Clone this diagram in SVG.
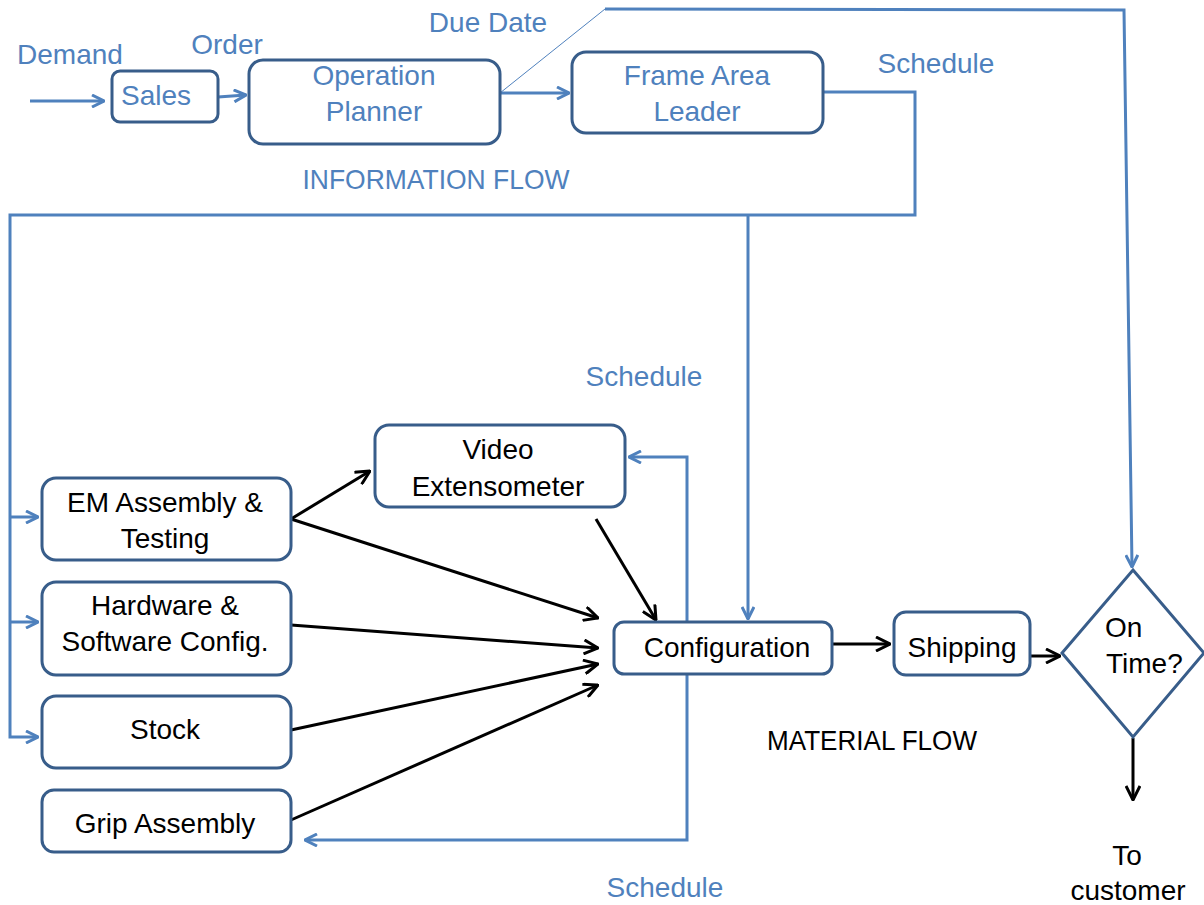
<svg xmlns="http://www.w3.org/2000/svg" width="1204" height="905" viewBox="0 0 1204 905">
  <style>
    .box { fill: #ffffff; stroke: #385D8A; stroke-width: 3; }
    .info { fill: none; stroke: #4F81BD; stroke-width: 3; }
    .thin { fill: none; stroke: #4F81BD; stroke-width: 1; }
    .mat { fill: none; stroke: #000000; stroke-width: 3; }
    text { font-family: "Liberation Sans", Arial, sans-serif; font-size: 28px; text-anchor: middle; }
    text.left { text-anchor: start; }
    .blue { fill: #4F81BD; }
    .dark { fill: #000000; }
  </style>
  <defs>
    <marker id="ab" viewBox="0 0 14 14" refX="13" refY="7" markerWidth="14" markerHeight="14" markerUnits="userSpaceOnUse" orient="auto">
      <path d="M1,1 L13,7 L1,13" fill="none" stroke="#4F81BD" stroke-width="3"/>
    </marker>
    <marker id="ak" viewBox="0 0 16 16" refX="15" refY="8" markerWidth="16" markerHeight="16" markerUnits="userSpaceOnUse" orient="auto">
      <path d="M1,1 L15,8 L1,15" fill="none" stroke="#000000" stroke-width="3"/>
    </marker>
  </defs>

  <!-- connectors -->
  <g id="connectors">
    <!-- information flow -->
    <line class="info" x1="30" y1="101" x2="104" y2="101" marker-end="url(#ab)"/>
    <line class="info" x1="218" y1="97" x2="246" y2="95" marker-end="url(#ab)"/>
    <line class="info" x1="500" y1="93" x2="569" y2="93" marker-end="url(#ab)"/>
    <line class="thin" x1="500" y1="93" x2="605" y2="9"/>
    <polyline class="info" points="605,9 1124,10 1132,567" marker-end="url(#ab)"/>
    <polyline class="info" points="823,92 915,92 915,215 10,215 10,737 38,737" marker-end="url(#ab)"/>
    <line class="info" x1="10" y1="517" x2="38" y2="517" marker-end="url(#ab)"/>
    <line class="info" x1="10" y1="622" x2="38" y2="622" marker-end="url(#ab)"/>
    <line class="info" x1="748" y1="215" x2="748" y2="619" marker-end="url(#ab)"/>
    <polyline class="info" points="687,622 687,457 629,457" marker-end="url(#ab)"/>
    <polyline class="info" points="687,674 687,840 305,840" marker-end="url(#ab)"/>

    <!-- material flow -->
    <line class="mat" x1="291" y1="519" x2="370" y2="471" marker-end="url(#ak)"/>
    <line class="mat" x1="291" y1="519" x2="598" y2="618" marker-end="url(#ak)"/>
    <line class="mat" x1="291" y1="625" x2="598" y2="648" marker-end="url(#ak)"/>
    <line class="mat" x1="291" y1="730" x2="598" y2="664" marker-end="url(#ak)"/>
    <line class="mat" x1="291" y1="820" x2="598" y2="685" marker-end="url(#ak)"/>
    <line class="mat" x1="596" y1="519" x2="656" y2="620" marker-end="url(#ak)"/>
    <line class="mat" x1="832" y1="644" x2="890" y2="644" marker-end="url(#ak)"/>
    <line class="mat" x1="1030" y1="656" x2="1060" y2="656" marker-end="url(#ak)"/>
    <line class="mat" x1="1133" y1="738" x2="1133" y2="800" marker-end="url(#ak)"/>
  </g>

  <!-- free labels -->
  <g id="labels">
    <text class="blue" x="70" y="64">Demand</text>
    <text class="blue" x="227" y="54">Order</text>
    <text class="blue" x="488" y="32">Due Date</text>
    <text class="blue" x="936" y="73">Schedule</text>
    <text class="blue" x="436" y="189" font-size="26" textLength="267" lengthAdjust="spacingAndGlyphs">INFORMATION FLOW</text>
    <text class="blue" x="644" y="386">Schedule</text>
    <text class="blue" x="665" y="897">Schedule</text>
    <text class="dark" x="872" y="750" font-size="26" textLength="210" lengthAdjust="spacingAndGlyphs">MATERIAL FLOW</text>
    <text class="dark" x="1127" y="865">To</text>
    <text class="dark" x="1128" y="900">customer</text>
  </g>

  <g id="sales">
    <rect class="box" x="112" y="71" width="106" height="51" rx="8"/>
    <text class="blue" x="156" y="105">Sales</text>
  </g>
  <g id="operation-planner">
    <rect class="box" x="249" y="60" width="251" height="84" rx="14"/>
    <text class="blue" x="374" y="85">Operation</text>
    <text class="blue" x="374" y="121">Planner</text>
  </g>
  <g id="frame-area-leader">
    <rect class="box" x="572" y="52" width="251" height="81" rx="14"/>
    <text class="blue" x="697" y="85">Frame Area</text>
    <text class="blue" x="697" y="121">Leader</text>
  </g>

  <g id="video-extensometer">
    <rect class="box" x="375" y="425" width="250" height="82" rx="14"/>
    <text class="dark" x="498" y="459">Video</text>
    <text class="dark" x="498" y="496">Extensometer</text>
  </g>
  <g id="em-assembly">
    <rect class="box" x="42" y="478" width="249" height="82" rx="14"/>
    <text class="dark" x="165" y="512">EM Assembly &amp;</text>
    <text class="dark" x="165" y="548">Testing</text>
  </g>
  <g id="hardware-software">
    <rect class="box" x="42" y="582" width="249" height="93" rx="14"/>
    <text class="dark" x="165" y="615">Hardware &amp;</text>
    <text class="dark" x="165" y="651">Software Config.</text>
  </g>
  <g id="stock">
    <rect class="box" x="42" y="696" width="249" height="72" rx="14"/>
    <text class="dark" x="165" y="739">Stock</text>
  </g>
  <g id="grip-assembly">
    <rect class="box" x="42" y="790" width="249" height="62" rx="12"/>
    <text class="dark" x="165" y="833">Grip Assembly</text>
  </g>
  <g id="configuration">
    <rect class="box" x="614" y="622" width="218" height="52" rx="10"/>
    <text class="dark" x="727" y="657">Configuration</text>
  </g>
  <g id="shipping">
    <rect class="box" x="894" y="612" width="136" height="63" rx="12"/>
    <text class="dark" x="962" y="657">Shipping</text>
  </g>
  <g id="on-time">
    <polygon class="box" points="1133,570 1204,653 1133,737 1062,653"/>
    <text class="dark left" x="1105" y="637">On</text>
    <text class="dark left" x="1106" y="673">Time?</text>
  </g>
</svg>
